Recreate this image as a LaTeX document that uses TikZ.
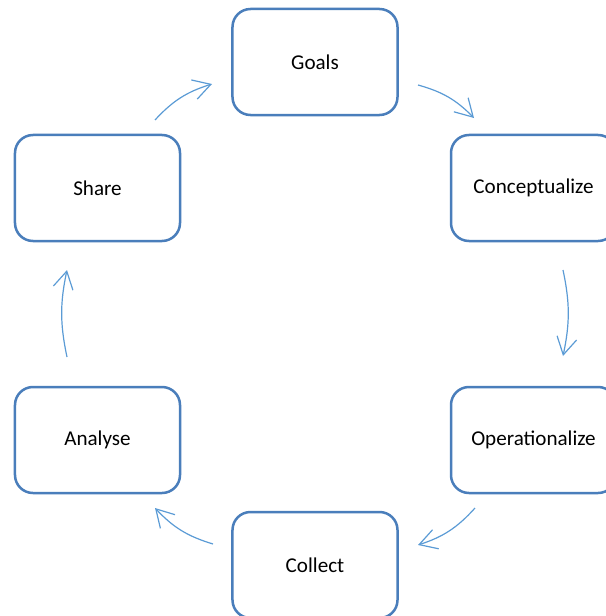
\documentclass[tikz,border=0pt]{standalone}
\usepackage{fontspec}
\setmainfont{Carlito}
\usepackage{tikz}
\usetikzlibrary{arrows.meta}

\definecolor{boxblue}{RGB}{74,126,187}
\definecolor{arrowblue}{RGB}{91,155,213}

\begin{document}
\begin{tikzpicture}[x=0.03cm,y=-0.03cm,
   stage/.style={draw=boxblue,line width=0.075cm,rounded corners=0.54cm,
      minimum width=4.95cm,minimum height=3.18cm,
      font=\fontsize{18}{22}\selectfont},
   cycarrow/.style={draw=arrowblue,line width=0.036cm,
      -{Straight Barb[length=0.52cm,width=0.6cm,line width=0.036cm]}}]
   \useasboundingbox (0,0) rectangle (605,616);

   % the six stages
   \node[stage] (goals) at (315,62) {Goals};
   \node[stage] (concept) at (533.5,188) {Conceptualize};
   \node[stage] (oper) at (533.5,440) {Operationalize};
   \node[stage] (collect) at (315,565) {Collect};
   \node[stage] (analyse) at (97.5,440) {Analyse};
   \node[stage] (share) at (97.5,188) {Share};

   % arrow ends
   \coordinate (a1) at (155,120);  \coordinate (b1) at (212,84);
   \coordinate (a2) at (418,85);   \coordinate (b2) at (474,118);
   \coordinate (a3) at (563,270);  \coordinate (b3) at (563,356);
   \coordinate (a4) at (475,508);  \coordinate (b4) at (418,545);
   \coordinate (a5) at (213,544);  \coordinate (b5) at (155,508);
   \coordinate (a6) at (67,357);   \coordinate (b6) at (67,270);

   \draw[cycarrow] (a1) to[bend left=15] (b1);
   \draw[cycarrow] (a2) to[bend left=15] (b2);
   \draw[cycarrow] (a3) to[bend left=12] (b3);
   \draw[cycarrow] (a4) to[bend left=15] (b4);
   \draw[cycarrow] (a5) to[bend left=15] (b5);
   \draw[cycarrow] (a6) to[bend left=12] (b6);
\end{tikzpicture}
\end{document}
